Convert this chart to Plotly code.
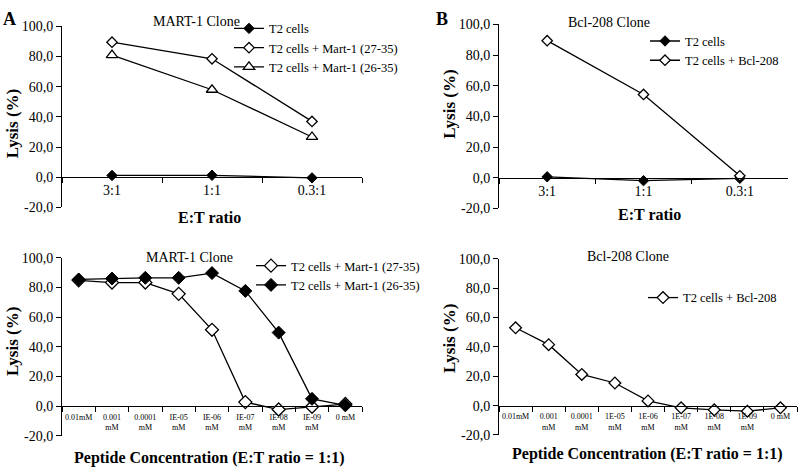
import plotly.graph_objects as go

W, H = 798, 473
FONT = "Liberation Serif, Times New Roman, serif"

# ---------------- data ----------------
ET_RATIOS = ["3:1", "1:1", "0.3:1"]
A_T2 = [1.2, 1.3, -0.4]
A_MART27 = [89.5, 78.5, 37.0]
A_MART26 = [81.0, 58.0, 26.7]

B_T2 = [0.6, -1.9, -0.4]
B_BCL = [89.4, 54.3, 1.3]

CONC_C = ["0.01mM", "0.001<br>mM", "0.0001<br>mM", "IE-05<br>mM", "IE-06<br>mM",
          "IE-07<br>mM", "IE-08<br>mM", "IE-09<br>mM", "0 mM"]
CONC_D = ["0.01mM", "0.001<br>mM", "0.0001<br>mM", "1E-05<br>mM", "1E-06<br>mM",
          "1E-07<br>mM", "1E-08<br>mM", "1E-09<br>mM", "0 mM"]
C_MART27 = [84.8, 83.3, 83.3, 75.7, 51.5, 2.8, -2.2, -0.3, 1.5]
C_MART26 = [85.4, 86.0, 86.5, 86.5, 89.7, 77.7, 49.6, 5.0, 0.6]
D_BCL = [53.0, 41.5, 21.2, 15.4, 3.2, -1.5, -2.9, -3.8, -1.5]

Y_TICK_VALS = [-20, 0, 20, 40, 60, 80, 100]
Y_TICK_TEXT = ["-20,0", "0,0", "20,0", "40,0", "60,0", "80,0", "100,0"]

# ---------------- helpers ----------------
def fx(p):
    return p / W

def fy(p):
    return 1 - p / H

filled = lambda s: dict(symbol="diamond", size=s, color="black", line=dict(color="black", width=1))
hollow = lambda s: dict(symbol="diamond", size=s, color="white", line=dict(color="black", width=1.3))
tri = lambda s: dict(symbol="triangle-up", size=s, color="white", line=dict(color="black", width=1.3))
LINE = dict(color="black", width=1.3)

fig = go.Figure()

def add(x, y, name, marker, xa, ya, legend):
    fig.add_trace(go.Scatter(x=x, y=y, name=name, mode="lines+markers", line=LINE,
                             marker=marker, xaxis=xa, yaxis=ya, legend=legend))

# Panel A
add(ET_RATIOS, A_T2, "T2 cells", filled(8), "x", "y", "legend")
add(ET_RATIOS, A_MART27, "T2 cells + Mart-1 (27-35)", hollow(8), "x", "y", "legend")
add(ET_RATIOS, A_MART26, "T2 cells + Mart-1 (26-35)", tri(10), "x", "y", "legend")
# Panel B
add(ET_RATIOS, B_T2, "T2 cells", filled(8), "x2", "y2", "legend2")
add(ET_RATIOS, B_BCL, "T2 cells + Bcl-208", hollow(8), "x2", "y2", "legend2")
# Panel C
add(CONC_C, C_MART27, "T2 cells + Mart-1 (27-35)", hollow(10), "x3", "y3", "legend3")
add(CONC_C, C_MART26, "T2 cells + Mart-1 (26-35)", filled(10), "x3", "y3", "legend3")
# Panel D
add(CONC_D, D_BCL, "T2 cells + Bcl-208", hollow(9), "x4", "y4", "legend4")

panels = {
    "": dict(x=(62, 362), y=(20, 207), n=3, tf=14, so=0),
    "2": dict(x=(499, 788), y=(18, 208), n=3, tf=14, so=0),
    "3": dict(x=(62, 362), y=(259, 443), n=9, tf=8, so=3),
    "4": dict(x=(499, 797), y=(260, 442), n=9, tf=8, so=3),
}

layout = dict(
    width=W, height=H, margin=dict(l=0, r=0, t=0, b=0),
    paper_bgcolor="white", plot_bgcolor="white",
    font=dict(family=FONT, color="black"),
    showlegend=True,
)

for k, p in panels.items():
    top, bot = fy(p["y"][0]), fy(p["y"][1])
    pos = bot + (top - bot) * 20 / 120
    layout["xaxis" + k] = dict(
        domain=[fx(p["x"][0]), fx(p["x"][1])], type="category",
        range=[-0.5, p["n"] - 0.5], anchor="free", position=pos,
        showline=True, linecolor="black", linewidth=1,
        ticks="outside", ticklen=5, tickcolor="black", tickson="boundaries",
        tickangle=0, ticklabelstandoff=p["so"], ticklabeloverflow="allow",
        tickfont=dict(size=p["tf"], family=FONT, color="black"),
        showgrid=False, zeroline=False, fixedrange=True,
    )
    layout["yaxis" + k] = dict(
        domain=[bot, top], anchor="x" + k, range=[-20, 100],
        tickvals=Y_TICK_VALS, ticktext=Y_TICK_TEXT,
        showline=True, linecolor="black", linewidth=1,
        ticks="outside", ticklen=5, tickcolor="black",
        tickfont=dict(size=14, family=FONT, color="black"),
        showgrid=False, zeroline=False, fixedrange=True,
    )

leg = lambda x, y: dict(x=fx(x), y=fy(y), xanchor="left", yanchor="top",
                        bgcolor="rgba(0,0,0,0)", borderwidth=0,
                        font=dict(size=12.5, family=FONT, color="black"))
layout["legend"] = leg(229, 7)
layout["legend2"] = leg(645, 20)
layout["legend3"] = leg(251, 252)
layout["legend4"] = leg(643, 285)

def ann(text, x, y, size, bold=False, angle=0):
    return dict(text=f"<b>{text}</b>" if bold else text, x=fx(x), y=fy(y),
                xref="paper", yref="paper", xanchor="center", yanchor="middle",
                showarrow=False, textangle=angle,
                font=dict(size=size, family=FONT, color="black"))

layout["annotations"] = [
    ann("A", 9, 12, 18, bold=True),
    ann("B", 442, 12, 18, bold=True),
    ann("MART-1 Clone", 196, 15, 14),
    ann("Bcl-208 Clone", 609, 16, 14),
    ann("MART-1 Clone", 189, 259, 14),
    ann("Bcl-208 Clone", 628, 258, 14),
    ann("E:T ratio", 209, 217, 16, bold=True),
    ann("E:T ratio", 649, 214, 16, bold=True),
    ann("Peptide Concentration (E:T ratio = 1:1)", 209, 466, 16, bold=True),
    ann("Peptide Concentration (E:T ratio = 1:1)", 647, 462, 16, bold=True),
    ann("Lysis (%)", 12, 121, 17, bold=True, angle=-90),
    ann("Lysis (%)", 450, 101, 17, bold=True, angle=-90),
    ann("Lysis (%)", 12, 346, 17, bold=True, angle=-90),
    ann("Lysis (%)", 449, 343, 17, bold=True, angle=-90),
]

fig.update_layout(**layout)
fig.write_html("out.html", config={"displayModeBar": False},
               post_script="document.body.style.margin='0';document.body.style.overflow='hidden';")
